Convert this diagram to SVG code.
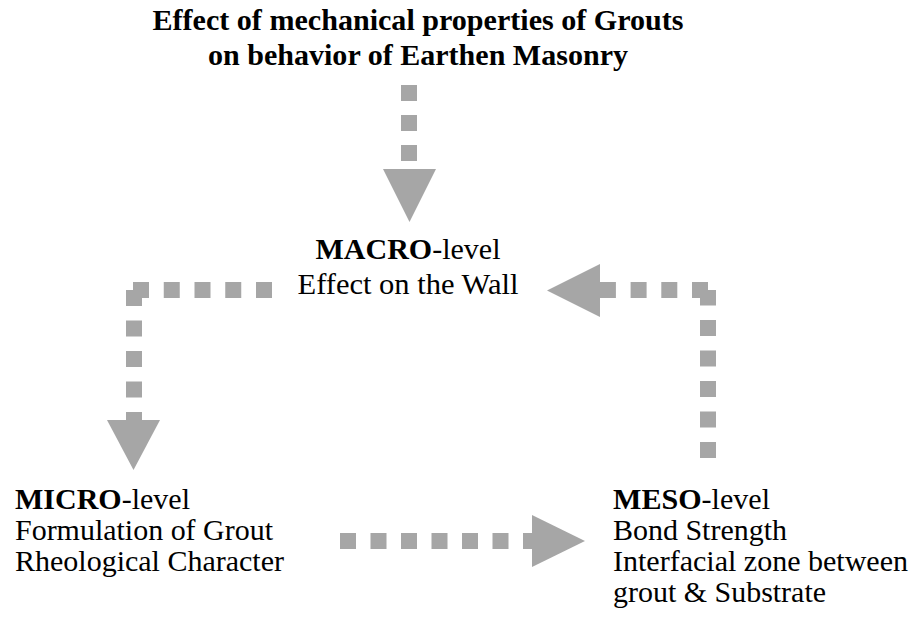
<svg xmlns="http://www.w3.org/2000/svg" width="915" height="624" viewBox="0 0 915 624">
<style>
  .dash { fill: none; stroke: #a6a6a6; stroke-width: 16; stroke-linecap: butt; }
  .head { fill: #a6a6a6; stroke: none; }
</style>
<rect width="915" height="624" fill="#ffffff"/>

<g id="title" font-family="Liberation Serif, Times New Roman, serif" font-size="30" font-weight="bold" text-anchor="middle" fill="#000000">
  <text x="418" y="30" textLength="531" lengthAdjust="spacingAndGlyphs">Effect of mechanical properties of Grouts</text>
  <text x="418" y="65" textLength="420" lengthAdjust="spacingAndGlyphs">on behavior of Earthen Masonry</text>
</g>

<g id="macro" font-family="Liberation Serif, Times New Roman, serif" font-size="30" text-anchor="middle" fill="#000000">
  <text x="408" y="259" textLength="185" lengthAdjust="spacingAndGlyphs"><tspan font-weight="bold">MACRO</tspan>-level</text>
  <text x="408" y="294" textLength="221" lengthAdjust="spacingAndGlyphs">Effect on the Wall</text>
</g>

<g id="micro" font-family="Liberation Serif, Times New Roman, serif" font-size="30" fill="#000000">
  <text x="15" y="509" textLength="175" lengthAdjust="spacingAndGlyphs"><tspan font-weight="bold">MICRO</tspan>-level</text>
  <text x="15" y="540" textLength="258" lengthAdjust="spacingAndGlyphs">Formulation of Grout</text>
  <text x="15" y="571" textLength="269" lengthAdjust="spacingAndGlyphs">Rheological Character</text>
</g>

<g id="meso" font-family="Liberation Serif, Times New Roman, serif" font-size="30" fill="#000000">
  <text x="613" y="509" textLength="157" lengthAdjust="spacingAndGlyphs"><tspan font-weight="bold">MESO</tspan>-level</text>
  <text x="613" y="540" textLength="174" lengthAdjust="spacingAndGlyphs">Bond Strength</text>
  <text x="613" y="571" textLength="295" lengthAdjust="spacingAndGlyphs">Interfacial zone between</text>
  <text x="613" y="602" textLength="213" lengthAdjust="spacingAndGlyphs">grout &amp; Substrate</text>
</g>

<g id="connectors">
  <!-- title to macro -->
  <path class="dash" d="M409 85 V169" stroke-dasharray="16 14"/>
  <polygon class="head" points="383,169 436,169 409.5,222"/>
  <!-- macro to micro -->
  <path class="dash" d="M272 290 H133" stroke-dasharray="16 14.75"/>
  <path class="dash" d="M134 290 V420" stroke-dasharray="16 14.5"/>
  <polygon class="head" points="107,420 160,420 133.5,470"/>
  <!-- micro to meso -->
  <path class="dash" d="M340 541 H532" stroke-dasharray="16 14.5"/>
  <polygon class="head" points="532,515 532,567 585,541"/>
  <!-- meso to macro -->
  <path class="dash" d="M708 458 V290" stroke-dasharray="16 14.5"/>
  <path class="dash" d="M708 290 H600" stroke-dasharray="16 14.7"/>
  <polygon class="head" points="600,264 600,317 547,290.5"/>
</g>
</svg>
